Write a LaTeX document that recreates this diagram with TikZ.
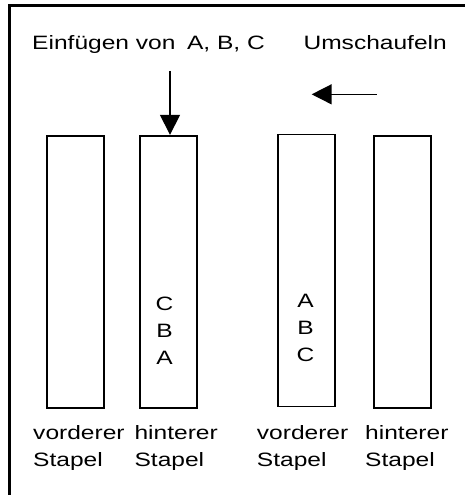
\documentclass[tikz,border=0pt]{standalone}
\usepackage{fontspec}
\setmainfont{Liberation Sans}[FakeStretch=1.27]
\usepackage{tikz}
\usetikzlibrary{positioning, arrows.meta}

\begin{document}
\begin{tikzpicture}[
  >={Triangle[length=17pt, width=17pt]},
  every node/.style={font=\fontsize{16.5}{23}\selectfont},
  stapel/.style={draw, line width=1.5pt, minimum width=1.71cm, minimum height=8.16cm, inner sep=0pt},
  lbl/.style={inner sep=0pt, anchor=base west, align=left}
]
\useasboundingbox (0,0) rectangle (13.95,-14.85);

% Frame (only top and left edge show)
\draw[line width=2.55pt] (0.285,-14.85) -- (0.285,-0.165) -- (13.95,-0.165);

% Headings
\node[lbl] (einf) at (0.96, -1.485) {Einfügen von \kern4pt A, B, C};
\node[lbl] (umsch) at (9.1, -1.485) {Umschaufeln};

% Stacks
\node[stapel] (vs1) at (2.274, -8.151) {};
\node[stapel] (hs1) at (5.06, -8.151) {};
\node[stapel] (vs2) at (9.195, -8.115) {};
\node[stapel] (hs2) at (12.07, -8.155) {};

% Contents (base anchor sits on the last line)
\node[inner sep=0pt, anchor=base, align=center] (cba) at (4.935, -10.92) {C\\B\\A};
\node[inner sep=0pt, anchor=base, align=center] (abc) at (9.165, -10.83) {A\\B\\C};

% Labels
\node[lbl] (l1) at (0.99, -14.0) {vorderer\\Stapel};
\node[lbl] (l2) at (4.03, -14.0) {hinterer\\Stapel};
\node[lbl] (l3) at (7.70, -14.0) {vorderer\\Stapel};
\node[lbl] (l4) at (10.95, -14.0) {hinterer\\Stapel};

% Arrows
\coordinate (ins) at (5.1, -2.13);
\draw[->, line width=1.2pt] (ins) -- (ins |- hs1.north);
\coordinate (shufA) at (11.3, -2.83);
\coordinate (shufB) at (9.35, -2.83);
\draw[->, line width=1.2pt] (shufA) -- (shufB);

\end{tikzpicture}
\end{document}
